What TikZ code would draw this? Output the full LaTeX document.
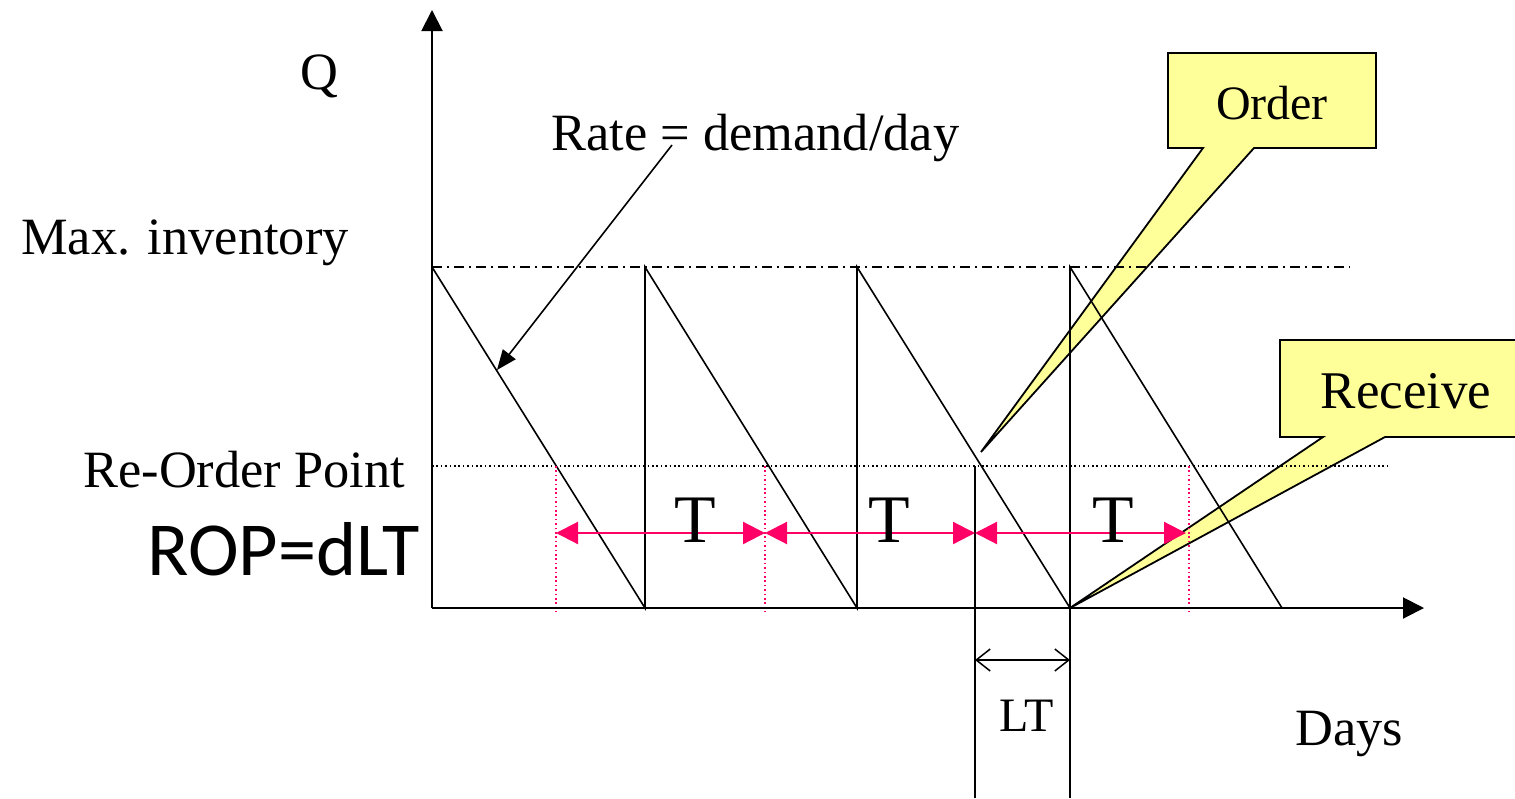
\documentclass[tikz,border=0pt]{standalone}
\usepackage{fontspec}
\setmainfont{Liberation Serif}
\newfontfamily\ropfont{Carlito}
\usetikzlibrary{arrows.meta,calc,positioning}
\definecolor{StockInk}{HTML}{000000}
\definecolor{CycleMark}{HTML}{FF0066}
\definecolor{NoteFill}{HTML}{FFFF99}
\tikzset{
  every node/.style={inner sep=0pt, text=StockInk},
  label/.style={font=\fontsize{26.2}{30}\selectfont},
  axis/.style={draw=StockInk, line width=1pt, -{Triangle[length=10.5pt,width=10.5pt]}},
  stock/.style={draw=StockInk, line width=0.8pt},
  maxline/.style={draw=StockInk, line width=0.6pt, dash pattern=on 5pt off 2.5pt on 1pt off 2.5pt},
  ropline/.style={draw=StockInk, line width=0.6pt, dash pattern=on 0.8pt off 1.4pt},
  cycleguide/.style={draw=CycleMark, line width=0.7pt, dash pattern=on 0.8pt off 1.4pt},
  cycle/.style={{Triangle[length=11pt,width=11pt]}-{Triangle[length=11pt,width=11pt]}, draw=CycleMark, line width=1.1pt},
  leadtime/.style={{Straight Barb[length=7pt,width=11pt]}-{Straight Barb[length=7pt,width=11pt]}, draw=StockInk, line width=0.75pt},
  pointer/.style={-{Triangle[length=10pt,width=8pt]}, draw=StockInk, line width=0.8pt},
  callout/.style={draw=StockInk, fill=NoteFill, line width=0.9pt, line join=miter},
}
\begin{document}
\begin{tikzpicture}[x=0.5pt,y=-0.5pt]
  \useasboundingbox (0,0) rectangle (1515,798);
  % key points of the sawtooth
  \coordinate (O) at (432,608);
  \coordinate (ytip) at (432,10);
  \coordinate (xtip) at (1424,608);
  \coordinate (top0) at (432,267);
  \coordinate (bot1) at (645,608);
  \coordinate (top1) at (645,267);
  \coordinate (bot2) at (857,608);
  \coordinate (top2) at (857,267);
  \coordinate (bot3) at (1070,608);
  \coordinate (top3) at (1070,267);
  \coordinate (bot4) at (1282,608);
  \coordinate (maxend) at (1350,267);
  \coordinate (rop0) at (432,466);
  \coordinate (ropend) at (1388,466);
  % callouts (under the lines)
  \draw[callout] (1168,53) -- (1376,53) -- (1376,148) -- (1254,148)
    -- (981,452) -- (1203,148) -- (1168,148) -- cycle;
  \node[font=\fontsize{24}{28}\selectfont, anchor=base] (order) at (1272,119) {Order};
  \draw[callout] (1280,340) -- (1530,340) -- (1530,437) -- (1385,437)
    -- (bot3) -- (1323,437) -- (1280,437) -- cycle;
  \node[font=\fontsize{26.5}{30}\selectfont, anchor=base] (receive) at (1406,408) {Receive};
  % levels
  \draw[maxline] (top0) -- (maxend);
  \draw[ropline] (rop0) -- (ropend);
  % inventory sawtooth
  \draw[stock] (top0) -- (bot1) -- (top1) -- (bot2) -- (top2) -- (bot3) -- (top3) -- (bot4);
  \coordinate (ltL) at (975,798);
  \coordinate (ltR) at (1070,798);
  \coordinate (r1) at (556,466);
  \coordinate (r2) at (765,466);
  \coordinate (r3) at (975,466);
  \coordinate (r4) at (1189,466);
  \draw[stock] (r3) -- (ltL);
  \draw[stock] (bot3) -- (ltR);
  \draw[cycleguide] (r1) -- (556,612);
  \draw[cycleguide] (r2) -- (765,612);
  \draw[cycleguide] (r4) -- (1189,612);
  % axes
  \draw[axis] (O) -- (ytip);
  \draw[axis] (O) -- (xtip);
  % cycle arrows
  \coordinate (c1) at (556,533);
  \coordinate (c2) at (765,533);
  \coordinate (c3) at (975,533);
  \coordinate (c4) at (1186,533);
  \draw[cycle] (c1) -- (c2);
  \draw[cycle] (c2) -- (c3);
  \draw[cycle] (c3) -- (c4);
  \node[font=\fontsize{34}{38}\selectfont, anchor=base] (t1) at (695,542) {T};
  \node[font=\fontsize{34}{38}\selectfont, anchor=base] (t2) at (889,542) {T};
  \node[font=\fontsize{34}{38}\selectfont, anchor=base] (t3) at (1113,542) {T};
  % lead time
  \coordinate (lt1) at (975,660);
  \coordinate (lt2) at (1070,660);
  \draw[leadtime] (lt1) -- (lt2);
  \node[font=\fontsize{24}{28}\selectfont, anchor=base west] (lt) at (999,731) {LT};
  % labels
  \node[label, anchor=base west] (qlab) at (300,89) {Q};
  \node[label, anchor=base west] (maxlab) at (21,254) {Max. inventory};
  \node[label, anchor=base west] (roplab) at (83,487) {Re-Order Point};
  \node[font=\ropfont\fontsize{38.2}{42}\selectfont, anchor=base west] (ropeq) at (147,575) {ROP=dLT};
  \node[label, anchor=base west] (days) at (1295,745) {Days};
  \node[label, anchor=base west] (rate) at (551,150) {Rate = demand/day};
  \coordinate (rateFoot) at (672,145);
  \coordinate (rateTip) at (497,370);
  \draw[pointer] (rateFoot) -- (rateTip);
\end{tikzpicture}
\end{document}
